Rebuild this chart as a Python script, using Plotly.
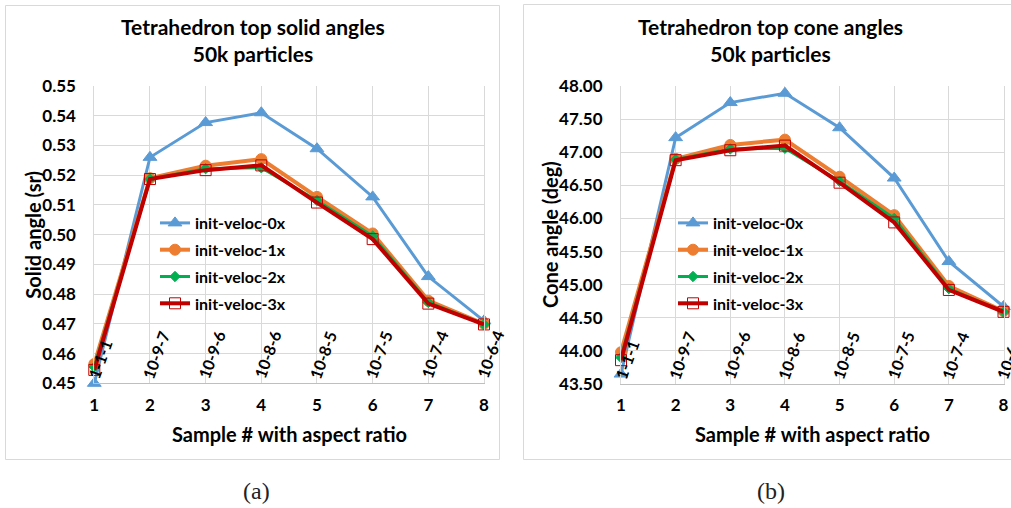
import plotly.graph_objects as go

# ---- data -------------------------------------------------------------
samples = [1, 2, 3, 4, 5, 6, 7, 8]
aspect_labels = ["1-1-1", "10-9-7", "10-9-6", "10-8-6", "10-8-5", "10-7-5", "10-7-4", "10-6-4"]
series_names = ["init-veloc-0x", "init-veloc-1x", "init-veloc-2x", "init-veloc-3x"]

solid_0x = [0.4500, 0.5260, 0.5377, 0.5410, 0.5289, 0.5127, 0.4859, 0.4710]
solid_1x = [0.4565, 0.5190, 0.5232, 0.5254, 0.5127, 0.5004, 0.4778, 0.4700]
solid_2x = [0.4555, 0.5187, 0.5222, 0.5225, 0.5115, 0.4995, 0.4772, 0.4698]
solid_3x = [0.4545, 0.5187, 0.5217, 0.5233, 0.5108, 0.4985, 0.4768, 0.4698]

cone_0x = [43.65, 47.22, 47.75, 47.89, 47.37, 46.61, 45.35, 44.67]
cone_1x = [43.98, 46.90, 47.11, 47.19, 46.63, 46.05, 44.98, 44.60]
cone_2x = [43.90, 46.89, 47.05, 47.06, 46.56, 46.00, 44.94, 44.59]
cone_3x = [43.86, 46.88, 47.03, 47.10, 46.54, 45.94, 44.92, 44.59]

# ---- styling ------------------------------------------------------------
W, H = 1011, 508
FONT = "Lato"
GRID = "#D9D9D9"
styles = [
    dict(color="#5B9BD5", width=3, symbol="triangle-up", size=12),
    dict(color="#ED7D31", width=4, symbol="circle", size=11),
    dict(color="#00B050", width=3, symbol="diamond", size=8),
    dict(color="#C00000", width=4, symbol="square-open", size=11),
]


def px_x(x):
    return x / W


def px_y(y):
    return (H - y) / H


fig = go.Figure()

panels = [
    dict(xa="x", ya="y", leg="legend", data=[solid_0x, solid_1x, solid_2x, solid_3x]),
    dict(xa="x2", ya="y2", leg="legend2", data=[cone_0x, cone_1x, cone_2x, cone_3x]),
]

for p in panels:
    for name, vals, st in zip(series_names, p["data"], styles):
        fig.add_trace(go.Scatter(
            x=samples, y=vals, name=name, mode="lines+markers",
            xaxis=p["xa"], yaxis=p["ya"], legend=p["leg"],
            legendgroup=p["leg"] + name,
            line=dict(color=st["color"], width=st["width"]),
            marker=dict(symbol=st["symbol"], size=st["size"], color=st["color"],
                        line=dict(width=1, color=st["color"])),
            cliponaxis=False,
        ))

tickfont = dict(family=FONT, size=17, color="#000000", weight="bold")
xcommon = dict(range=[1, 8], tickvals=samples, showgrid=True, gridcolor=GRID, gridwidth=1,
               showline=True, linecolor="#BFBFBF", linewidth=1, zeroline=False,
               tickfont=tickfont, ticks="outside", ticklen=6, tickcolor="rgba(0,0,0,0)",
               automargin=False, fixedrange=True)
ycommon = dict(showgrid=True, gridcolor=GRID, gridwidth=1, showline=True, linecolor=GRID,
               mirror=True, zeroline=False, tickfont=tickfont, tickformat=".2f",
               ticks="outside", ticklen=14, tickcolor="rgba(0,0,0,0)",
               automargin=False, fixedrange=True)

left_plot = (94.3, 484.0, 86.0, 383.3)
right_plot = (621.0, 1003.5, 86.0, 384.0)

fig.update_layout(
    width=W, height=H, autosize=False,
    margin=dict(l=0, r=0, t=0, b=0, pad=0, autoexpand=False),
    paper_bgcolor="white", plot_bgcolor="white",
    showlegend=True,
    xaxis=dict(domain=[px_x(left_plot[0]), px_x(left_plot[1])], anchor="y", **xcommon),
    yaxis=dict(domain=[px_y(left_plot[3]), px_y(left_plot[2])], anchor="x",
               range=[0.45, 0.55], dtick=0.01, **ycommon),
    xaxis2=dict(domain=[px_x(right_plot[0]), px_x(right_plot[1])], anchor="y2", **xcommon),
    yaxis2=dict(domain=[px_y(right_plot[3]), px_y(right_plot[2])], anchor="x2",
                range=[43.5, 48.0], dtick=0.5, **ycommon),
)

legend_common = dict(xanchor="left", yanchor="top", bgcolor="rgba(0,0,0,0)",
                     traceorder="grouped", tracegroupgap=3, itemwidth=30,
                     font=dict(family=FONT, size=16, color="#000000", weight="bold"))
fig.update_layout(
    legend=dict(x=px_x(155), y=px_y(206), **legend_common),
    legend2=dict(x=px_x(673), y=px_y(206), **legend_common),
)

annotations = []
titles = [("Tetrahedron top solid angles<br>50k particles", 252.5, "Solid angle (sr)", 33, left_plot, "x", "y", 0.45),
          ("Tetrahedron top cone angles<br>50k particles", 770.5, "Cone angle (deg)", 550, right_plot, "x2", "y2", 43.5)]
for title, cx, ytitle, ytx, plot, xa, ya, ymin in titles:
    annotations.append(dict(text=title, x=px_x(cx), y=px_y(40), xref="paper", yref="paper",
                            xanchor="center", yanchor="middle", showarrow=False,
                            font=dict(family=FONT, size=21, color="#000000", weight="bold")))
    annotations.append(dict(text=ytitle, x=px_x(ytx), y=px_y((plot[2] + plot[3]) / 2),
                            xref="paper", yref="paper", textangle=-90,
                            xanchor="center", yanchor="middle", showarrow=False,
                            font=dict(family=FONT, size=20, color="#000000", weight="bold")))
    annotations.append(dict(text="Sample # with aspect ratio", x=px_x((plot[0] + plot[1]) / 2),
                            y=px_y(434), xref="paper", yref="paper",
                            xanchor="center", yanchor="middle", showarrow=False,
                            font=dict(family=FONT, size=20, color="#000000", weight="bold")))
    for s, lab in zip(samples, aspect_labels):
        annotations.append(dict(text=lab, x=s, y=ymin, xref=xa, yref=ya, textangle=-70,
                                xanchor="center", yanchor="bottom", xshift=6, showarrow=False,
                                font=dict(family=FONT, size=16, color="#000000", weight="bold")))

for cap, cx in [("(a)", 256), ("(b)", 771)]:
    annotations.append(dict(text=cap, x=px_x(cx), y=px_y(491), xref="paper", yref="paper",
                            xanchor="center", yanchor="middle", showarrow=False,
                            font=dict(family="Liberation Serif", size=24, color="#222222")))

fig.update_layout(annotations=annotations)

# chart frames
shapes = [
    dict(type="rect", xref="paper", yref="paper", x0=px_x(5.5), x1=px_x(499.5),
         y0=px_y(459.5), y1=px_y(5.5), line=dict(color=GRID, width=1), layer="below"),
    dict(type="rect", xref="paper", yref="paper", x0=px_x(523.5), x1=px_x(1020),
         y0=px_y(459.5), y1=px_y(4.5), line=dict(color=GRID, width=1), layer="below"),
]
fig.update_layout(shapes=shapes)

fig.write_html("out.html")
